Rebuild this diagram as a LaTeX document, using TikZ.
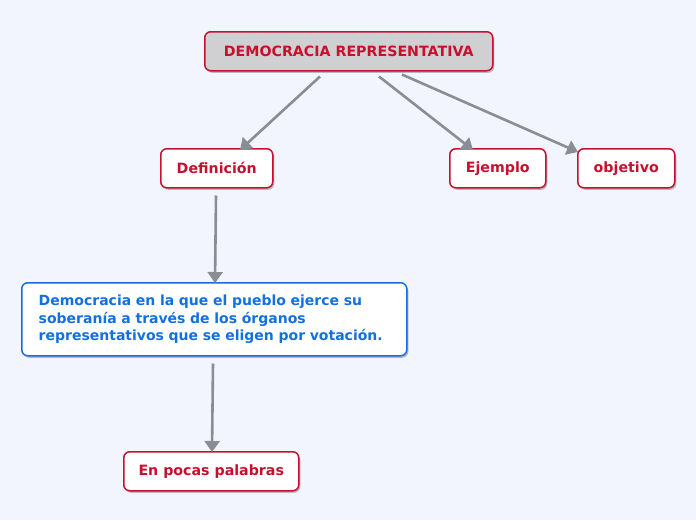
\documentclass[tikz,border=0pt]{standalone}
\usepackage{fontspec}
\setmainfont{DejaVu Sans}
\usetikzlibrary{arrows.meta,shadows,calc}
\definecolor{bgc}{HTML}{F2F5FE}
\definecolor{crim}{HTML}{C8102E}
\definecolor{bluec}{HTML}{1270E0}
\definecolor{grayfill}{HTML}{D0D0D2}
\definecolor{arrowc}{HTML}{8A8D93}
\tikzset{
  x=1pt,y=-1pt,
  box/.style={draw=crim,line width=1.5pt,rounded corners=6pt,fill=white,
    font=\fontsize{14.2}{16}\selectfont\bfseries,text=crim,
    drop shadow={shadow xshift=1.5pt,shadow yshift=-2pt,opacity=0.25,fill=black},
    inner sep=0pt,anchor=north west},
  conn/.style={draw=arrowc,line width=2.6pt,-{Triangle[length=11pt,width=15pt]}},
}
\begin{document}
\begin{tikzpicture}
\fill[bgc] (0,0) rectangle (696,520);
\useasboundingbox (0,0) rectangle (696,520);
\node[box,fill=grayfill,minimum width=288pt,minimum height=39pt] (top) at (204,31) {DEMOCRACIA REPRESENTATIVA};
\node[box,minimum width=112pt,minimum height=39pt] (def) at (160,148) {Definición};
\node[box,minimum width=96pt,minimum height=39pt] (ej) at (449,148) {Ejemplo};
\node[box,minimum width=97pt,minimum height=39pt] (obj) at (577,148) {objetivo};
\node[box,draw=bluec,text=bluec,minimum width=385pt,minimum height=73pt,align=left,text width=385pt,
  font=\fontsize{14}{17.5}\selectfont\bfseries,inner xsep=0pt] (blue) at (21,282)
  {\hspace*{17pt}\parbox[c]{365pt}{\raggedright Democracia en la que el pueblo ejerce su\\ soberanía a través de los órganos\\ representativos que se eligen por votación.}};
\node[box,minimum width=175pt,minimum height=39pt] (pocas) at (123,451) {En pocas palabras};
\coordinate (s1) at ($(top.south west)+(116,5)$);
\coordinate (s2) at ($(top.south west)+(175,5)$);
\coordinate (s3) at ($(top.south west)+(198,3)$);
\coordinate (e1) at ($(def.north west)+(80,2)$);
\coordinate (e2) at ($(ej.north west)+(24,2)$);
\coordinate (e3) at ($(obj.north west)+(1,4)$);
\coordinate (s4) at ($(def.south west)+(56,7)$);
\coordinate (e4) at ($(blue.north west)+(194,1)$);
\coordinate (s5) at ($(blue.south west)+(192,7)$);
\coordinate (e5) at ($(pocas.north west)+(89,1)$);
\draw[conn] (s1) -- (e1);
\draw[conn] (s2) -- (e2);
\draw[conn] (s3) -- (e3);
\draw[conn] (s4) -- (e4);
\draw[conn] (s5) -- (e5);
\end{tikzpicture}
\end{document}
